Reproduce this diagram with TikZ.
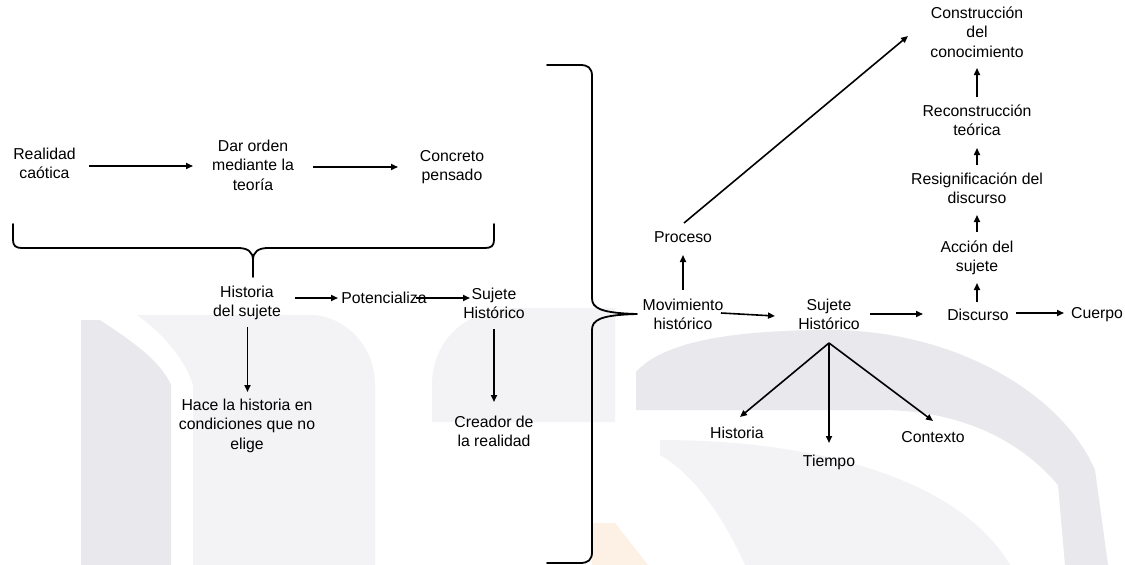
\documentclass[tikz,border=0pt]{standalone}
\usepackage{fontspec}
\setmainfont{Liberation Sans}
\usetikzlibrary{arrows.meta,calc}
\definecolor{wmdark}{RGB}{232,232,237}
\definecolor{wmlight}{RGB}{243,243,246}
\definecolor{wmorange}{RGB}{253,241,230}
\begin{document}
\begin{tikzpicture}[x=1pt,y=-1pt,
  lbl/.style={inner sep=0pt, align=center, font=\fontsize{15.8}{19.2}\selectfont,
              execute at begin node=\strut, execute at end node=\strut},
  arr/.style={line width=1.6pt, -{Triangle[length=7pt,width=6pt]}},
  ln/.style={line width=1.6pt},
  brace/.style={line width=1.8pt, line join=round, line cap=round}]

\useasboundingbox (0,0) rectangle (1125,565);
\fill[white] (0,0) rectangle (1125,565);

% faint background emblem
\fill[wmdark] (81,320) -- (100,320) .. controls (130,340) and (160,360) .. (171,385) -- (171,565) -- (81,565) -- cycle;
\fill[wmlight] (137,315) -- (315,315) .. controls (345,318) and (375,345) .. (375,385) -- (375,565) -- (193,565) -- (193,385) .. controls (185,360) and (165,335) .. cycle;
\fill[wmlight] (432,422) -- (432,385) .. controls (432,345) and (460,308) .. (520,308) -- (615,308) -- (615,422) -- cycle;
\fill[wmorange] (592,523) -- (615,523) -- (648,565) -- (592,565) -- cycle;
\fill[wmdark] (636,410) -- (636,372) .. controls (660,345) and (720,330) .. (830,330)
  .. controls (950,330) and (1060,390) .. (1095,470) -- (1108,565) -- (1065,565) -- (1058,485)
  .. controls (1020,440) and (960,410) .. (880,410) -- cycle;
\fill[wmlight] (660,440) .. controls (820,440) and (960,480) .. (1010,565) -- (745,565)
  .. controls (725,520) and (695,475) .. (660,455) -- cycle;

% nodes, left block
\node[lbl] (real) at (44.5,166) {Realidad\\caótica};
\node[lbl] (dar) at (253,168) {Dar orden\\mediante la\\teoría};
\node[lbl] (conc) at (452,168) {Concreto\\pensado};
\node[lbl] (hist) at (247,304) {Historia\\del sujete};
\node[lbl] (pot) at (384,300) {Potencializa};
\node[lbl] (suj1) at (494,306) {Sujete\\Histórico};
\node[lbl] (hace) at (247,427) {Hace la historia en\\condiciones que no\\elige};
\node[lbl] (crea) at (494,434) {Creador de\\la realidad};

% nodes, right block
\node[lbl] (mov) at (683,317) {Movimiento\\histórico};
\node[lbl] (proc) at (683,239) {Proceso};
\node[lbl] (suj2) at (829,317) {Sujete\\Histórico};
\node[lbl] (disc) at (978,317) {Discurso};
\node[lbl] (cuer) at (1097,315) {Cuerpo};
\node[lbl] (acc) at (977,259) {Acción del\\sujete};
\node[lbl] (resig) at (977,191) {Resignificación del\\discurso};
\node[lbl] (recon) at (977,123) {Reconstrucción\\teórica};
\node[lbl] (cons) at (977,35) {Construcción\\del\\conocimiento};
\node[lbl] (hist2) at (737,435) {Historia};
\node[lbl] (tiem) at (829,463) {Tiempo};
\node[lbl] (cont) at (933,439) {Contexto};
\coordinate (apex) at ($(suj2)+(0,26)$);

% connectors, left block
\draw[arr] ($(real)+(44.5,0)$) -- ($(dar)+(-60,-2)$);
\draw[arr] ($(dar)+(60,-1)$) -- ($(conc)+(-54,-1)$);
\draw[arr] ($(hist)+(48,-6)$) -- ($(pot)+(-46,-2)$);
\draw[arr] ($(pot)+(32,-2)$) -- ($(suj1)+(-24,-8)$);
\draw[arr] ($(hist)+(0.5,23)$) -- ($(hace)+(0.5,-35)$);
\draw[arr] ($(suj1)+(0,23)$) -- ($(crea)+(0,-32)$);

% connectors, right block
\draw[arr] ($(mov)+(0,-27)$) -- ($(proc)+(0,16)$);
\draw[arr] ($(proc)+(1,-16)$) -- ($(cons)+(-69,1)$);
\draw[arr] ($(mov)+(38,-4)$) -- ($(suj2)+(-54,-1)$);
\draw[arr] ($(suj2)+(41,-3)$) -- ($(disc)+(-55,-3)$);
\draw[arr] ($(disc)+(38,-4)$) -- ($(cuer)+(-33,-2)$);
\draw[arr] ($(disc)+(-1,-15)$) -- ($(acc)+(0,24)$);
\draw[arr] ($(acc)+(0,-27)$) -- ($(resig)+(0,24)$);
\draw[arr] ($(resig)+(0,-26)$) -- ($(recon)+(0,25)$);
\draw[arr] ($(recon)+(0,-26)$) -- ($(cons)+(0,33)$);
\draw[arr] (apex) -- ($(hist2)+(3,-18)$);
\draw[arr] (apex) -- ($(tiem)+(0,-20)$);
\draw[arr] (apex) -- ($(cont)+(0,-18)$);

% horizontal brace under the first row
\draw[brace] (13,224) -- (13,240) .. controls (13,246) and (16,248) .. (22,248) -- (238,248)
  .. controls (248,248) and (253,252) .. (253,260) -- (253,277);
\draw[brace] (494,224) -- (494,240) .. controls (494,246) and (491,248) .. (485,248) -- (268,248)
  .. controls (258,248) and (253,252) .. (253,260);

% tall brace gathering the left block
\draw[brace] (547,65) -- (580,65) .. controls (588,65) and (592,68) .. (592,76) -- (592,298)
  .. controls (592,308) and (600,313) .. (637,314)
  .. controls (600,315) and (592,320) .. (592,330) -- (592,552)
  .. controls (592,560) and (588,563) .. (580,563) -- (547,563);
\end{tikzpicture}
\end{document}
